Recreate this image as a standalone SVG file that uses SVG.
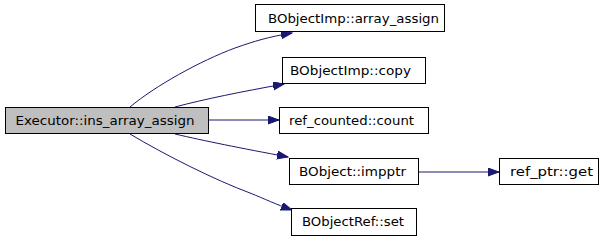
<svg xmlns="http://www.w3.org/2000/svg" width="603" height="240" viewBox="0 0 603 240">
<style>
.n rect{fill:#fff;stroke:#000;stroke-width:1}
.n.main rect{fill:#bfbfbf}
.n text{font-family:"DejaVu Sans",sans-serif;font-size:12px;fill:#000;text-anchor:middle}
.e path{fill:none;stroke:#191970;stroke-width:1}
</style>
<defs>
<marker id="ah" markerUnits="userSpaceOnUse" markerWidth="12" markerHeight="10" refX="11" refY="4" orient="auto">
<path d="M0,0 L11,4 L0,8 Z" fill="#191970" stroke="#191970"/>
</marker>
</defs>
<rect width="603" height="240" fill="#fff"/>
<g id="edges" class="e">
<path d="M130,107 C155,86 200,61 235,48 C255,41 268,37 292,33" marker-end="url(#ah)"/>
<path d="M175,107 C205,99 240,92 284,84" marker-end="url(#ah)"/>
<path d="M208,120 L279,120" marker-end="url(#ah)"/>
<path d="M175,134 C205,141 240,148 288,157" marker-end="url(#ah)"/>
<path d="M130,134 C165,155 215,180 250,193 C265,199 275,204 292,210" marker-end="url(#ah)"/>
<path d="M418,172 L499,172" marker-end="url(#ah)"/>
</g>
<g id="n_main" class="n main"><rect x="5.5" y="107.5" width="203" height="26"/><text x="105" y="125" textLength="179" lengthAdjust="spacingAndGlyphs">Executor::ins_array_assign</text></g>
<g id="n_array_assign" class="n"><rect x="255.5" y="4.5" width="189" height="27"/><text x="353.5" y="22.5" textLength="171" lengthAdjust="spacingAndGlyphs">BObjectImp::array_assign</text></g>
<g id="n_copy" class="n"><rect x="282.5" y="57.5" width="143" height="26"/><text x="350.5" y="74.5" textLength="121" lengthAdjust="spacingAndGlyphs">BObjectImp::copy</text></g>
<g id="n_count" class="n"><rect x="279.5" y="107.5" width="149" height="26"/><text x="351.5" y="124.5" textLength="125" lengthAdjust="spacingAndGlyphs">ref_counted::count</text></g>
<g id="n_impptr" class="n"><rect x="289.5" y="158.5" width="129" height="26"/><text x="352.5" y="175.5" textLength="107" lengthAdjust="spacingAndGlyphs">BObject::impptr</text></g>
<g id="n_set" class="n"><rect x="291.5" y="208.5" width="125" height="27"/><text x="353" y="226" textLength="102" lengthAdjust="spacingAndGlyphs">BObjectRef::set</text></g>
<g id="n_get" class="n"><rect x="499.5" y="158.5" width="99" height="26"/><text x="551.5" y="175.5" textLength="83" lengthAdjust="spacingAndGlyphs">ref_ptr::get</text></g>
</svg>
